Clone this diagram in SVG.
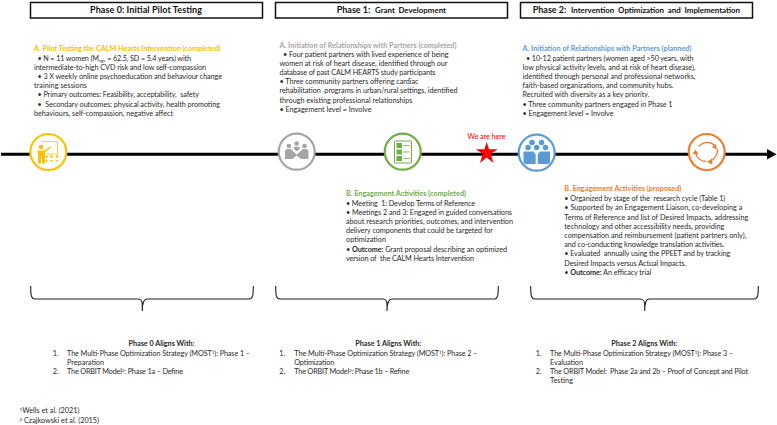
<svg xmlns="http://www.w3.org/2000/svg" width="777" height="425" viewBox="0 0 777 425">
<style>
text{font-family:Lato,"Liberation Sans",sans-serif;font-size:7.25px;fill:#2a2a2a;white-space:pre}
.h{font-weight:700;font-size:9px;fill:#111}
.h2{font-size:7.9px}
.b{font-weight:700}
.c{text-anchor:middle}
.box{fill:#fff;stroke:#111;stroke-width:1.5}
.ring{fill:#fff;stroke-width:2.2}
.brace{fill:none;stroke:#222;stroke-width:1.1}
.s{font-size:4.6px}
</style>

<g id="connectors">
<path id="timeline" d="M1 154.300H768" stroke="#000" stroke-width="3" fill="none"/>
<path id="arrowhead" d="M767 149V159.500L776.500 154.300Z" fill="#000"/>
<path class="brace" d="M30.700 286C30.700 295 31 299 35 299H138C141 299 142.300 302 142.300 305V311C142.300 302 144 299 147 299H249C253 299 253.300 295 253.300 286"/>
<path class="brace" d="M275.700 286C275.700 295 276 299 280 299H383C386 299 387 302 387 305V311C387 302 389 299 392 299H494C498 299 498.300 295 498.300 286"/>
<path class="brace" d="M530.700 286C530.700 295 531 299 535 299H640C643 299 644.700 302 644.700 305V311C644.700 302 646 299 649 299H754C758 299 758.300 295 758.300 286"/>
</g>

<g id="phase0-header">
<rect class="box" x="30.500" y="2.500" width="232" height="15.500"/>
<text class="h c" x="146" y="12.600" textLength="112">Phase 0: Initial Pilot Testing</text>
</g>
<g id="phase1-header">
<rect class="box" x="275.500" y="2.500" width="232" height="15.500"/>
<text class="h" x="336.700" y="12.800">Phase 1:</text>
<text class="h h2" x="375" y="12.800" textLength="71" word-spacing="1.500">Grant Development</text>
</g>
<g id="phase2-header">
<rect class="box" x="520.500" y="2.500" width="232" height="15.500"/>
<text class="h" x="532.700" y="12.800">Phase 2:</text>
<text class="h h2" x="571" y="12.800" textLength="169" word-spacing="2">Intervention Optimization and Implementation</text>
</g>

<g id="phase0-text">
<text class="b" x="34" y="51" style="fill:#ffc000" textLength="186.500">A. Pilot Testing the CALM Hearts Intervention (completed)</text>
<text x="34" y="60.500" textLength="157">  • N = 11 women (M<tspan class="s" dy="1.500">age</tspan><tspan dy="-1.500"> = 62.5, SD = 5.4 years) with</tspan></text>
<text x="34" y="70" textLength="172">intermediate-to-high CVD risk and low self-compassion</text>
<text x="34" y="79" textLength="188">  • 3 X weekly online psychoeducation and behaviour change</text>
<text x="34" y="88" textLength="53">training sessions</text>
<text x="34" y="97" textLength="165">  • Primary outcomes: Feasibility, acceptability,  safety</text>
<text x="34" y="106.500" textLength="186">  •  Secondary outcomes: physical activity, health promoting</text>
<text x="34" y="115.500" textLength="139">behaviours, self-compassion, negative affect</text>
</g>

<g id="phase1-a-text">
<text class="b" x="279.500" y="47.500" style="fill:#a5a5a5" textLength="177">A. Initiation of Relationships with Partners (completed)</text>
<text x="279.500" y="56.700" textLength="169">  • Four patient partners with lived experience of being</text>
<text x="279.500" y="66" textLength="168">women at risk of heart disease, identified through our</text>
<text x="279.500" y="75.300" textLength="156">database of past CALM HEARTS study participants</text>
<text x="279.500" y="84.300" textLength="139">• Three community partners offering cardiac</text>
<text x="279.500" y="93.400" textLength="178">rehabilitation  programs in urban/rural settings, identified</text>
<text x="279.500" y="102.700" textLength="133">through existing professional relationships</text>
<text x="279.500" y="112" textLength="92">• Engagement level = Involve</text>
</g>

<g id="phase2-a-text">
<text class="b" x="522.500" y="51" style="fill:#5b9bd5" textLength="169">A. Initiation of Relationships with Partners (planned)</text>
<text x="522.500" y="60.500" textLength="171">  • 10-12 patient partners (women aged &gt;50 years, with</text>
<text x="522.500" y="70" textLength="173">low physical activity levels, and at risk of heart disease),</text>
<text x="522.500" y="79" textLength="173">identified through personal and professional networks,</text>
<text x="522.500" y="88" textLength="151">faith-based organizations, and community hubs.</text>
<text x="522.500" y="97" textLength="127">Recruited with diversity as a key priority.</text>
<text x="522.500" y="106.500" textLength="150">• Three community partners engaged in Phase 1</text>
<text x="522.500" y="115.500" textLength="91">• Engagement level = Involve</text>
</g>

<g id="we-are-here">
<text class="c" x="486.500" y="138.500" style="fill:#ff0000" textLength="38">We are here</text>
<path d="M486.700 142L489 149.300H497.700L490.700 153.700L493.400 163L486.700 157.400L480 163L482.700 153.700L475.700 149.300H484.400Z" fill="#ff0000"/>
</g>

<g id="node-pilot">
<circle class="ring" cx="48.300" cy="152" r="18" stroke="#ffc000"/>
<g fill="#ffc000">
<circle cx="41" cy="147" r="2.300"/>
<path d="M37.500 150.500H44L50.500 146.500L51.200 147.500L45 152V163.500H42V156.500H41V163.500H38V156Z"/>
<circle cx="46.500" cy="156.500" r="1.300"/><circle cx="51.500" cy="156.500" r="1.300"/><circle cx="57" cy="156.500" r="1.300"/>
<path d="M44.800 161.500Q46.500 157.800 48.200 161.500ZM49.800 161.500Q51.500 157.800 53.200 161.500ZM55.300 161.500Q57 157.800 58.700 161.500Z"/>
</g>
<path d="M41.500 141.500H57.500V154H47" fill="none" stroke="#ffc000" stroke-width=".8"/>
</g>

<g id="node-partners-gray">
<circle class="ring" cx="296.700" cy="151.700" r="18" stroke="#a5a5a5"/>
<g fill="#a5a5a5">
<circle cx="289" cy="146" r="2.300"/><circle cx="296.700" cy="143.500" r="2.300"/><circle cx="304.500" cy="146" r="2.300"/>
<path d="M285 159V151.500Q285 149 288 149H290.500L296.700 154.500L303 149H305.500Q308.500 149 308.500 151.500V159H301L296.700 155.500L292.500 159Z"/>
<path d="M293.500 148.500Q293.500 146.500 296.700 146.500Q300 146.500 300 148.500L296.700 151.500Z"/>
</g>
</g>

<g id="node-activities-green">
<circle class="ring" cx="402.700" cy="151.700" r="18" stroke="#70ad47"/>
<rect x="394.500" y="141" width="17" height="22" rx="1" fill="none" stroke="#70ad47" stroke-width="1"/>
<g fill="#70ad47">
<rect x="396.500" y="143" width="5.500" height="5"/><rect x="396.500" y="149.500" width="5.500" height="5"/><rect x="396.500" y="156" width="5.500" height="5"/>
<rect x="403.500" y="145" width="6" height=".9"/><rect x="403.500" y="151.500" width="6" height=".9"/><rect x="403.500" y="158" width="6" height=".9"/>
</g>
</g>

<g id="node-partners-blue">
<circle class="ring" cx="536.700" cy="152.700" r="18" stroke="#5b9bd5"/>
<g fill="#5b9bd5">
<circle cx="532" cy="142.500" r="2.800"/><circle cx="541.500" cy="142.500" r="2.800"/>
<circle cx="528" cy="147.500" r="2.800"/><circle cx="536.700" cy="147.500" r="2.800"/><circle cx="545.500" cy="147.500" r="2.800"/>
<path d="M523.500 151.500H533.500L535.700 154.500V164H526Q523.500 164 523.500 162Z"/>
<path d="M550 151.500H540L537.700 154.500V164H547.500Q550 164 550 162Z"/>
</g>
</g>

<g id="node-cycle">
<circle class="ring" cx="706.700" cy="152" r="18" stroke="#ed7d31"/>
<g fill="none" stroke="#ed7d31" stroke-width="1.300">
<path d="M698.500 146.500Q703 142 709 142.500Q713 143.500 715 146"/>
<path d="M717.500 149Q718 157 710 161.500"/>
<path d="M706 161.500Q697 161 695.500 152"/>
</g>
<g fill="#ed7d31">
<path d="M716.800 149.500L711.800 147.300L716 143.800Z"/>
<path d="M707 162L711.800 158.500L712.500 164.500Z"/>
<path d="M695.500 149.500L692.500 154L698.500 154.300Z"/>
</g>
</g>

<g id="phase1-b-text">
<text class="b" x="346" y="196" style="fill:#70ad47" textLength="120">B. Engagement Activities (completed)</text>
<text x="346" y="205.600" textLength="129">• Meeting  1: Develop Terms of Reference</text>
<text x="346" y="215" textLength="166">• Meetings 2 and 3: Engaged in guided conversations</text>
<text x="346" y="224" textLength="167">about research priorities, outcomes, and intervention</text>
<text x="346" y="233" textLength="147">delivery components that could be targeted for</text>
<text x="346" y="242.300" textLength="40">optimization</text>
<text x="346" y="251.600" textLength="161"><tspan>• </tspan><tspan class="b">Outcome:</tspan> Grant proposal describing an optimized</text>
<text x="346" y="261" textLength="128">version of  the CALM Hearts Intervention</text>
</g>

<g id="phase2-b-text">
<text class="b" x="564.300" y="191.300" style="fill:#ed7d31" textLength="117">B. Engagement Activities (proposed)</text>
<text x="564.300" y="200.700" textLength="161">• Organized by stage of the  research cycle (Table 1)</text>
<text x="564.300" y="210" textLength="178">• Supported by an Engagement Liaison, co-developing a</text>
<text x="564.300" y="219.600" textLength="184">Terms of Reference and list of Desired Impacts, addressing</text>
<text x="564.300" y="229" textLength="160">technology and other accessibility needs, providing</text>
<text x="564.300" y="238" textLength="182">compensation and reimbursement (patient partners only),</text>
<text x="564.300" y="247.300" textLength="160">and co-conducting knowledge translation activities.</text>
<text x="564.300" y="256.300" textLength="166">• Evaluated  annually using the PPEET and by tracking</text>
<text x="564.300" y="265.600" textLength="122">Desired Impacts versus Actual Impacts.</text>
<text x="564.300" y="275.300" textLength="87"><tspan>• </tspan><tspan class="b">Outcome:</tspan> An efficacy trial</text>
</g>

<g id="phase0-aligns">
<text class="b c" x="161.500" y="345.700" textLength="66">Phase 0 Aligns With:</text>
<text x="52.700" y="355.700">1.</text>
<text x="67" y="355.700" textLength="183">The Multi-Phase Optimization Strategy (MOST<tspan class="s" dy="-2">1</tspan><tspan dy="2">): Phase 1 –</tspan></text>
<text x="67" y="364.700" textLength="37">Preparation</text>
<text x="52.700" y="374">2.</text>
<text x="67" y="374" textLength="116">The ORBIT Model<tspan class="s" dy="-2">2</tspan><tspan dy="2">: Phase 1a – Define</tspan></text>
</g>

<g id="phase1-aligns">
<text class="b c" x="388.300" y="345.700" textLength="66">Phase 1 Aligns With:</text>
<text x="279.300" y="355.700">1.</text>
<text x="294.300" y="355.700" textLength="183">The Multi-Phase Optimization Strategy (MOST<tspan class="s" dy="-2">1</tspan><tspan dy="2">): Phase 2 –</tspan></text>
<text x="294.300" y="364.700" textLength="40">Optimization</text>
<text x="279.300" y="374">2.</text>
<text x="294.300" y="374" textLength="115">The ORBIT Model<tspan class="s" dy="-2">2</tspan><tspan dy="2">: Phase 1b – Refine</tspan></text>
</g>

<g id="phase2-aligns">
<text class="b c" x="644.300" y="345.700" textLength="66">Phase 2 Aligns With:</text>
<text x="535.700" y="355.700">1.</text>
<text x="550" y="355.700" textLength="183">The Multi-Phase Optimization Strategy (MOST<tspan class="s" dy="-2">1</tspan><tspan dy="2">): Phase 3 –</tspan></text>
<text x="550" y="364.700" textLength="33">Evaluation</text>
<text x="535.700" y="374">2.</text>
<text x="550" y="374" textLength="198">The ORBIT Model:  Phase 2a and 2b – Proof of Concept and Pilot</text>
<text x="550" y="383.300" textLength="23">Testing</text>
</g>

<g id="footnotes">
<text x="19.500" y="413"><tspan class="s" dy="-2">1</tspan><tspan dy="2">Wells et al. (2021)</tspan></text>
<text x="19.500" y="423"><tspan class="s" dy="-2">2</tspan><tspan dy="2"> Czajkowski et al. (2015)</tspan></text>
</g>
</svg>
